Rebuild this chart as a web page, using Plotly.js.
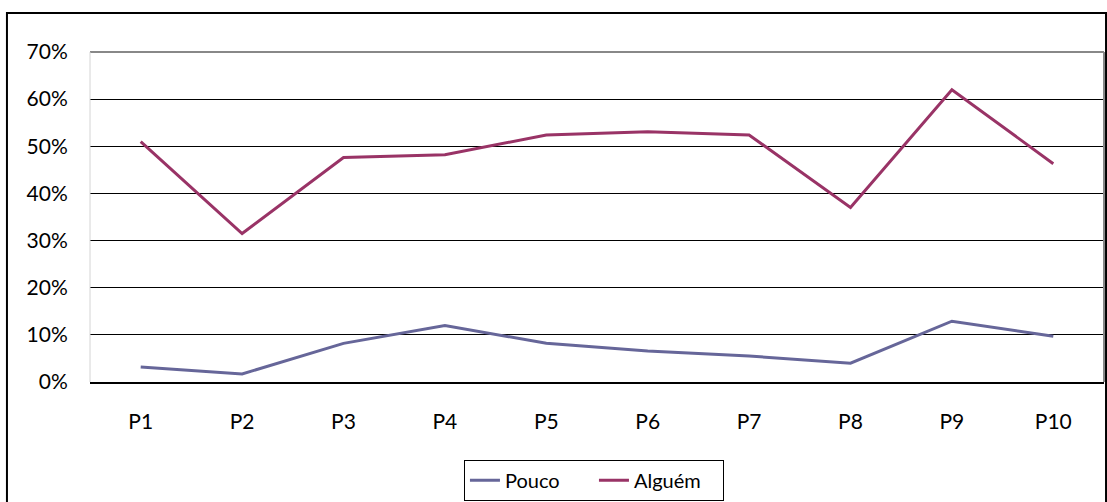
<!DOCTYPE html>
<html>
<head>
<meta charset="utf-8">
<script src="https://cdn.plot.ly/plotly-3.0.1.min.js"></script>
<style>
  html, body { margin: 0; padding: 0; background: #fff; }
  #chart { width: 1107px; height: 502px; }
</style>
</head>
<body>
<div id="chart"></div>
<script>
const categories = ["P1", "P2", "P3", "P4", "P5", "P6", "P7", "P8", "P9", "P10"];
const pouco = [0.032, 0.017, 0.082, 0.120, 0.082, 0.066, 0.055, 0.040, 0.129, 0.097];
const alguem = [0.510, 0.315, 0.476, 0.482, 0.524, 0.531, 0.524, 0.370, 0.620, 0.463];
const yTickVals = [0, 0.1, 0.2, 0.3, 0.4, 0.5, 0.6, 0.7];
const yTickText = ["0%", "10%", "20%", "30%", "40%", "50%", "60%", "70%"];

const fontFamily = "Lato, 'Open Sans', sans-serif";

const traces = [
  { x: categories, y: pouco, name: "Pouco", type: "scatter", mode: "lines",
    line: { color: "#666699", width: 3 } },
  { x: categories, y: alguem, name: "Alguém", type: "scatter", mode: "lines",
    line: { color: "#993366", width: 3 } }
];

const layout = {
  width: 1107, height: 502,
  margin: { l: 90, r: 3, t: 52, b: 119 },
  paper_bgcolor: "#fff", plot_bgcolor: "#fff",
  font: { family: fontFamily, size: 21, color: "#000" },
  showlegend: true,
  legend: {
    orientation: "h", x: 0.497, xanchor: "center", y: -0.232, yanchor: "top",
    bordercolor: "#000", borderwidth: 1, font: { size: 20 },
    entrywidth: 84, entrywidthmode: "pixels", tracegroupgap: 0
  },
  xaxis: {
    type: "category", range: [-0.5, 9.5],
    showgrid: false, zeroline: false,
    showline: true, linecolor: "#000", linewidth: 2,
    ticks: "outside", ticklen: 20, tickcolor: "rgba(0,0,0,0)",
    fixedrange: true
  },
  yaxis: {
    range: [0, 0.7], tickvals: yTickVals, ticktext: yTickText,
    showgrid: true, gridcolor: "#000", gridwidth: 1,
    zeroline: false, showline: false,
    ticks: "outside", ticklen: 17, tickcolor: "rgba(0,0,0,0)",
    fixedrange: true
  },
  shapes: [
    { type: "line", xref: "paper", yref: "paper", x0: 0, x1: 1, y0: 1, y1: 1,
      line: { color: "#888", width: 2 } },
    { type: "line", xref: "paper", yref: "paper", x0: 1, x1: 1, y0: 0, y1: 1,
      line: { color: "#888", width: 2 } },
    { type: "line", xref: "paper", yref: "paper", x0: 0, x1: 0, y0: 0, y1: 1,
      line: { color: "#d4d4d4", width: 1 } },
    { type: "rect", xref: "paper", yref: "paper", x0: -0.0819, x1: 1.002, y0: -0.37, y1: 1.118,
      line: { color: "#000", width: 2 }, layer: "below" }
  ]
};

Plotly.newPlot("chart", traces, layout, { displayModeBar: false, staticPlot: true });
</script>
</body>
</html>
